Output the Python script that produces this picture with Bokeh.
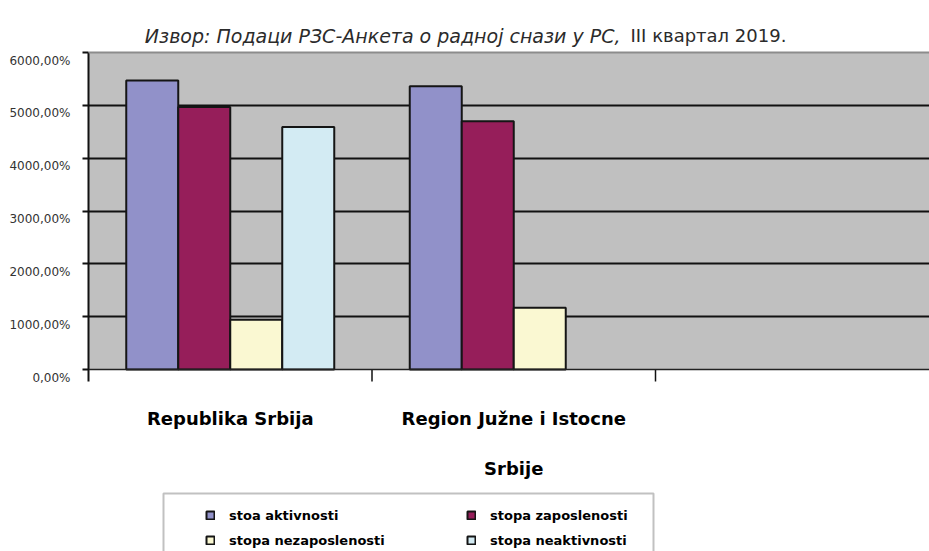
from bokeh.plotting import figure
from bokeh.models import (FixedTicker, Legend, LegendItem, BoxAnnotation, Span,
                          Range1d, ColumnDataSource, LinearAxis)
from bokeh.embed import file_html
from bokeh.resources import INLINE
from bokeh.core.properties import value

# ---------------- data ----------------
title_source = "Извор: Подаци РЗС-Анкета о радној снази у РС,"
title_period = "III квартал 2019."
categories = ["Republika Srbija", "Region Južne i Istocne\nSrbije"]
n_slots = 3  # the third category slot of the chart is empty
series_names = ["stoa aktivnosti", "stopa zaposlenosti",
                "stopa nezaposlenosti", "stopa neaktivnosti"]
stoa_aktivnosti = [5470, 5360]
stopa_zaposlenosti = [4970, 4700]
stopa_nezaposlenosti = [940, 1170]
stopa_neaktivnosti = [4590, None]
y_ticks = [0, 1000, 2000, 3000, 4000, 5000, 6000]
y_tick_labels = ["0,00%", "1000,00%", "2000,00%", "3000,00%",
                 "4000,00%", "5000,00%", "6000,00%"]
colors = ["#9191C9", "#961E5A", "#FAF8D2", "#D3EBF3"]
legend_order = [0, 2, 1, 3]   # legend is filled column by column

series_values = [stoa_aktivnosti, stopa_zaposlenosti,
                 stopa_nezaposlenosti, stopa_neaktivnosti]

# ---------------- layout (pixels) ----------------
W, H = 929, 551
FL = 88                 # left edge of plot area
PT, PB = 52, 369        # top / bottom of the grey plot area
slot_px = 283.5         # px per category slot
u = (y_ticks[-1] - y_ticks[0]) / (PB - PT)   # data units per vertical px
bar_w = 52 / slot_px
x_end = (W - FL) / slot_px

p = figure(width=W, height=H, output_backend="svg", toolbar_location=None,
           x_range=Range1d(0, x_end),
           y_range=Range1d(-(H - PB) * u, y_ticks[-1] + PT * u),
           min_border_left=FL, min_border_right=0, min_border_top=0,
           min_border_bottom=0, x_axis_location=None,
           background_fill_color="white", border_fill_color="white",
           outline_line_alpha=0)

# grey plot area
p.quad(left=0, right=x_end, bottom=y_ticks[0], top=y_ticks[-1],
       fill_color="#C0C0C0", line_alpha=0, level="image")

renderers = []
for k, (name, vals, col) in enumerate(zip(series_names, series_values, colors)):
    xs, tops = [], []
    for i, v in enumerate(vals):
        if v is None:
            continue
        xs.append(i + 0.5 + (k - 1.5) * bar_w)
        tops.append(v)
    src = ColumnDataSource(dict(x=xs, top=tops))
    r = p.vbar(x="x", top="top", bottom=0, width=bar_w, source=src,
               fill_color=col, line_color="#151515", line_width=2)
    renderers.append(r)

# grid
p.xgrid.visible = False
p.ygrid.ticker = FixedTicker(ticks=y_ticks[1:-1])
p.ygrid.grid_line_color = "#111111"
p.ygrid.grid_line_width = 2
p.add_layout(Span(location=y_ticks[-1], dimension="width",
                  line_color="#8c8c8c", line_width=2))
p.add_layout(Span(location=y_ticks[0], dimension="width",
                  line_color="#222222", line_width=1.5))

# y axis: line + ticks
ya = p.yaxis[0]
ya.ticker = FixedTicker(ticks=y_ticks)
ya.bounds = (-12 * u, y_ticks[-1])
ya.major_label_overrides = {t: "" for t in y_ticks}
ya.major_label_standoff = 0
ya.axis_line_color = "#111111"
ya.axis_line_width = 2
ya.major_tick_line_color = "#111111"
ya.major_tick_line_width = 2
ya.major_tick_out = 6
ya.major_tick_in = 0
ya.minor_tick_out = 0
ya.minor_tick_in = 0

# y axis labels (drawn slightly below their ticks, as in the original)
lab_pos = [t - 8 * u for t in y_ticks]
yl = LinearAxis(ticker=FixedTicker(ticks=lab_pos),
                major_label_overrides={pp: l for pp, l in zip(lab_pos, y_tick_labels)},
                axis_line_alpha=0, major_tick_out=0, major_tick_in=0,
                minor_tick_out=0, minor_tick_in=0, major_label_standoff=12,
                major_label_text_font="DejaVu Sans",
                major_label_text_font_size="12px",
                major_label_text_color="#333333")
p.add_layout(yl, "left")

# category separator ticks below the plot area
sep = list(range(1, n_slots))
p.segment(x0=sep, y0=0, x1=sep, y1=-12 * u, line_color="#111111",
          line_width=1.5)

# category labels
for j in range(2):
    xs, ys, ts = [], [], []
    for i, cat in enumerate(categories):
        lines = cat.split("\n")
        if j < len(lines):
            xs.append(i + 0.5)
            ys.append(-(49 + 50 * j) * u)
            ts.append(lines[j])
    p.text(x=xs, y=ys, text=ts, text_align="center", text_baseline="middle",
           text_font=value("DejaVu Sans"), text_font_style="bold",
           text_font_size="18px", text_color="black")

# title (italic source + upright period)
ty = y_ticks[-1] + (PT - 35) * u
p.text(x=[(620 - FL) / slot_px], y=[ty], text=[title_source], text_align="right",
       text_baseline="middle", text_font=value("DejaVu Sans"),
       text_font_style="italic", text_font_size="19px", text_color="#2b2b2b")
p.text(x=[(630 - FL) / slot_px], y=[ty], text=[title_period], text_align="left",
       text_baseline="middle", text_font=value("DejaVu Sans"),
       text_font_size="18px", text_color="#2b2b2b")

# legend frame
p.add_layout(BoxAnnotation(left=(163 - FL) / slot_px, right=(653 - FL) / slot_px,
                           top=-(493 - PB) * u, bottom=-(H - PB + 20) * u,
                           fill_alpha=0, line_color="#333333", line_width=2))

legend = Legend(items=[LegendItem(label=series_names[k], renderers=[renderers[k]])
                       for k in legend_order],
                location=(200 - FL, -4), ncols=2,
                glyph_width=10, glyph_height=10, label_standoff=14,
                label_height=20, label_width=232, spacing=5, padding=5,
                margin=0, border_line_alpha=0, background_fill_alpha=0,
                label_text_font="DejaVu Sans", label_text_font_style="bold",
                label_text_font_size="13px", label_text_color="black")
p.add_layout(legend, "center")

open("out.html", "w").write(file_html(p, INLINE))
